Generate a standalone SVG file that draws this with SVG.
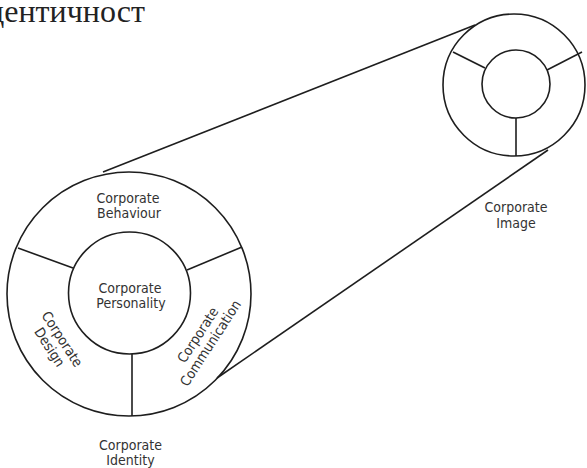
<svg xmlns="http://www.w3.org/2000/svg" width="587" height="468" viewBox="0 0 587 468">
<style>
.c{fill:none;stroke:#1e1e1e;stroke-width:1.6}
.l{stroke:#1e1e1e;stroke-width:1.6}
.t{font-family:"DejaVu Sans Condensed","DejaVu Sans",sans-serif;font-size:14px;fill:#333;text-anchor:middle}
.h{font-family:"Liberation Serif","Times New Roman",serif;font-size:32px;fill:#222}
</style>
<rect width="587" height="468" fill="#fff"/>
<text class="h" x="-12" y="22">дентичност</text>
<g id="connectors">
<line class="l" x1="103" y1="172" x2="475" y2="25"/>
<line class="l" x1="217" y1="378" x2="548" y2="150"/>
</g>
<g id="corporate-identity">
<circle class="c" cx="129" cy="294" r="122"/>
<circle class="c" cx="129.5" cy="293" r="61"/>
<line class="l" x1="18" y1="248" x2="73" y2="268"/>
<line class="l" x1="242" y1="247" x2="187" y2="270"/>
<line class="l" x1="132" y1="354" x2="132" y2="416"/>
<text class="t" x="128" y="203">Corporate</text>
<text class="t" x="129" y="218">Behaviour</text>
<text class="t" x="130" y="293">Corporate</text>
<text class="t" x="131" y="308">Personality</text>
<g transform="translate(56,343) rotate(57)">
<text class="t" x="0" y="-2.5">Corporate</text>
<text class="t" x="0" y="12.5">Design</text>
</g>
<g transform="translate(204,339) rotate(-57)">
<text class="t" x="0" y="-2.5">Corporate</text>
<text class="t" x="0" y="12.5">Communication</text>
</g>
<text class="t" x="130.5" y="450">Corporate</text>
<text class="t" x="130.5" y="465">Identity</text>
</g>
<g id="corporate-image">
<circle class="c" cx="514" cy="85" r="71"/>
<circle class="c" cx="516" cy="84" r="34"/>
<line class="l" x1="453" y1="52" x2="485" y2="68"/>
<line class="l" x1="582" y1="52" x2="547" y2="70"/>
<line class="l" x1="516" y1="118" x2="516" y2="156"/>
<text class="t" x="516" y="212">Corporate</text>
<text class="t" x="516" y="228">Image</text>
</g>
</svg>
